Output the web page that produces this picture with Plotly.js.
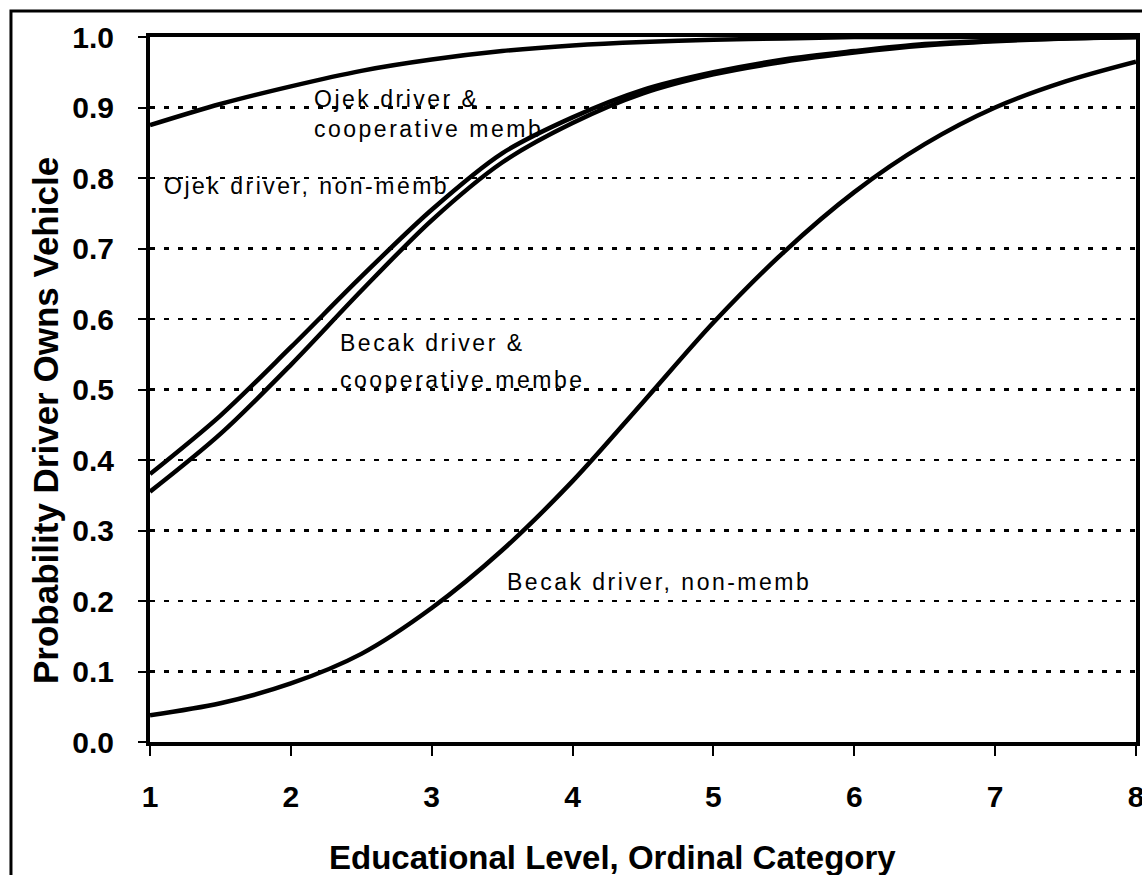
<!DOCTYPE html>
<html><head><meta charset="utf-8">
<script src="https://cdn.plot.ly/plotly-3.0.1.min.js"></script>
<style>html,body{margin:0;padding:0;background:#fff}</style>
</head><body><div id="chart" style="width:1142px;height:875px"></div>
<script>
// Educational level (ordinal category)
var eduLevel = [1, 1.5, 2, 2.5, 3, 3.5, 4, 4.5, 5, 5.5, 6, 6.5, 7, 7.5, 8];
// Probability driver owns vehicle
var ojekCoop   = [0.875, 0.905, 0.93, 0.952, 0.968, 0.98, 0.988, 0.993, 0.996, 0.998, 1.0, 1.0, 1.0, 1.0, 1.0];
var ojekNon    = [0.38, 0.463, 0.56, 0.66, 0.755, 0.835, 0.886, 0.925, 0.95, 0.968, 0.98, 0.99, 0.995, 0.998, 1.0];
var becakCoop  = [0.355, 0.437, 0.535, 0.64, 0.74, 0.822, 0.878, 0.92, 0.947, 0.965, 0.978, 0.988, 0.994, 0.998, 1.0];
var becakNon   = [0.038, 0.055, 0.083, 0.125, 0.19, 0.272, 0.37, 0.482, 0.595, 0.695, 0.78, 0.848, 0.9, 0.937, 0.965];
var seriesNames = ["Ojek driver & cooperative member", "Ojek driver, non-member", "Becak driver & cooperative member", "Becak driver, non-member"];
var xTickVals = [1, 2, 3, 4, 5, 6, 7, 8];
var xTickText = ["1", "2", "3", "4", "5", "6", "7", "8"];
var yTickVals = [0, 0.1, 0.2, 0.3, 0.4, 0.5, 0.6, 0.7, 0.8, 0.9, 1.0];
var yTickText = ["0.0", "0.1", "0.2", "0.3", "0.4", "0.5", "0.6", "0.7", "0.8", "0.9", "1.0"];
// In-chart labels
var labelTexts = ["Ojek driver &", "cooperative memb", "Ojek driver, non-memb", "Becak driver &", "cooperative membe", "Becak driver, non-memb"];
var labelX = [2.15, 2.15, 1.085, 2.335, 2.335, 3.52];
var labelY = [0.912, 0.87, 0.789, 0.566, 0.5135, 0.227];

var allSeries = [ojekCoop, ojekNon, becakCoop, becakNon];
var traces = allSeries.map(function (ys, i) {
  return {
    x: eduLevel, y: ys, name: seriesNames[i], type: 'scatter', mode: 'lines',
    line: {color: '#000', width: 4.5, shape: 'spline', smoothing: 0.9},
    cliponaxis: true, hoverinfo: 'x+y+name'
  };
});

var tickFont = {family: 'Liberation Sans, Arial, sans-serif', size: 30, color: '#000', weight: 700};
var annFont = {family: 'Liberation Sans, Arial, sans-serif', size: 23, color: '#000'};

var annotations = labelTexts.map(function (t, i) {
  return {
    x: labelX[i], y: labelY[i], xref: 'x', yref: 'y',
    text: '<span style="letter-spacing:2.5px">' + t + '</span>',
    showarrow: false, xanchor: 'left', yanchor: 'middle', font: annFont
  };
});
annotations.push({
  x: 0.4686, y: -0.1645, xref: 'paper', yref: 'paper',
  text: 'Educational Level, Ordinal Category', showarrow: false,
  xanchor: 'center', yanchor: 'middle',
  font: {family: 'Liberation Sans, Arial, sans-serif', size: 33, color: '#000', weight: 700}
});
annotations.push({
  x: -0.1065, y: 0.4567, xref: 'paper', yref: 'paper',
  text: 'Probability Driver Owns Vehicle', showarrow: false, textangle: -90,
  xanchor: 'center', yanchor: 'middle',
  font: {family: 'Liberation Sans, Arial, sans-serif', size: 35, color: '#000', weight: 700}
});

var layout = {
  width: 1142, height: 875,
  margin: {l: 150, r: 6, t: 37, b: 133, pad: 0},
  paper_bgcolor: '#fff', plot_bgcolor: '#fff',
  showlegend: false,
  xaxis: {
    range: [1, 8], tickmode: 'array', tickvals: xTickVals, ticktext: xTickText,
    showline: true, linewidth: 4, linecolor: '#000', mirror: true,
    ticks: 'outside', ticklen: 10, tickwidth: 2, tickcolor: '#000',
    tickfont: tickFont, showgrid: false, zeroline: false, ticklabelstandoff: 15,
    ticklabeloverflow: 'allow'
  },
  yaxis: {
    range: [0, 1], tickmode: 'array', tickvals: yTickVals, ticktext: yTickText,
    showline: true, linewidth: 4, linecolor: '#000', mirror: true,
    ticks: 'outside', ticklen: 8, tickwidth: 2, tickcolor: '#000',
    tickfont: tickFont, showgrid: true, gridcolor: '#000', gridwidth: 2.5,
    griddash: '5px,9px', zeroline: false, ticklabelstandoff: 18,
    ticklabeloverflow: 'allow'
  },
  annotations: annotations,
  shapes: [{
    type: 'rect', xref: 'paper', yref: 'paper',
    x0: -0.141, x1: 1.1, y0: -0.3, y1: 1.0369,
    line: {color: '#000', width: 3}
  }]
};

Plotly.newPlot('chart', traces, layout, {displayModeBar: false, staticPlot: true});
</script></body></html>
